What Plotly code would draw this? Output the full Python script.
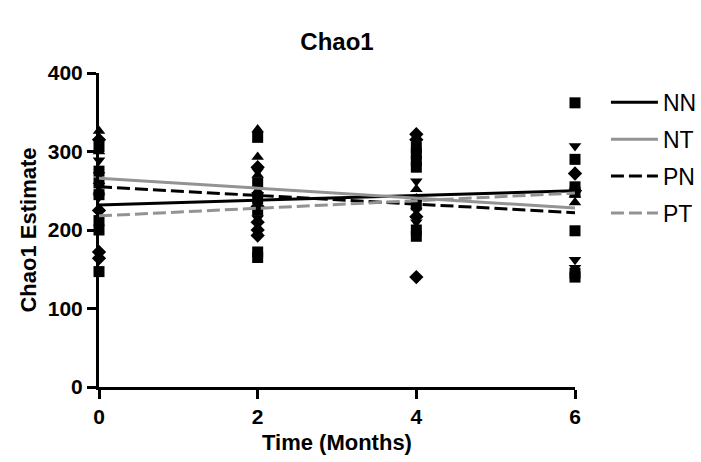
import plotly.graph_objects as go

# ---- data ----
times = [0, 2, 4, 6]
groups = ["NN", "NT", "PN", "PT"]

nn_t0 = [306, 275, 260, 245, 212, 200, 147]
nn_t2 = [318, 260, 240, 225, 172, 165]
nn_t4 = [305, 297, 288, 280, 232, 200, 192]
nn_t6 = [362, 290, 255, 248, 199, 145, 140]

nt_t0 = [326, 300, 262, 250]
nt_t2 = [328, 293, 270, 250]
nt_t4 = [252, 240]
nt_t6 = [245, 235]

pn_t0 = [289, 270, 242]
pn_t2 = [275, 245, 215]
pn_t4 = [262, 225, 210]
pn_t6 = [307, 162, 152]

pt_t0 = [315, 225, 172, 164]
pt_t2 = [280, 230, 210, 200, 193]
pt_t4 = [322, 315, 217, 140]
pt_t6 = [272, 250]

# fitted regression line values at month 0 and month 6
fit_x = [0, 6]
nn_fit = [232, 250]
nt_fit = [266, 228]
pn_fit = [255, 222]
pt_fit = [218, 247]

y_ticks = [0, 100, 200, 300, 400]
x_ticks = [0, 2, 4, 6]

# ---- figure ----
FONT = "Liberation Sans, Arial, sans-serif"
GREY = "#939393"

series = {
    "NN": ([nn_t0, nn_t2, nn_t4, nn_t6], "square", nn_fit, "black", "solid"),
    "NT": ([nt_t0, nt_t2, nt_t4, nt_t6], "triangle-up", nt_fit, GREY, "solid"),
    "PN": ([pn_t0, pn_t2, pn_t4, pn_t6], "triangle-down", pn_fit, "black", "13px,5px"),
    "PT": ([pt_t0, pt_t2, pt_t4, pt_t6], "diamond", pt_fit, GREY, "13px,5px"),
}

fig = go.Figure()

for g in groups:
    vals, sym, fit, col, dash = series[g]
    xs, ys = [], []
    for t, v in zip(times, vals):
        xs += [t] * len(v)
        ys += v
    fig.add_trace(go.Scatter(
        x=xs, y=ys, mode="markers", showlegend=False, cliponaxis=False,
        marker=dict(symbol=sym, size=11, color="black", line=dict(width=0)),
    ))

for g in groups:
    vals, sym, fit, col, dash = series[g]
    fig.add_trace(go.Scatter(
        x=fit_x, y=fit, mode="lines", name=g, legendgroup=g, cliponaxis=False,
        line=dict(color=col, width=3, dash=dash),
    ))

fig.update_layout(
    width=701, height=462,
    margin=dict(l=99, r=126, t=73, b=75, autoexpand=False),
    paper_bgcolor="white", plot_bgcolor="white",
    font=dict(family=FONT, color="black"),
    title=dict(text="<b>Chao1</b>", x=0.5, xref="paper", xanchor="center", y=0.91, yanchor="middle",
               font=dict(size=24, family=FONT, color="black")),
    legend=dict(x=1.065, y=0.975, xanchor="left", yanchor="top",
                font=dict(size=23, family=FONT, color="black"),
                tracegroupgap=4, bgcolor="rgba(0,0,0,0)", itemwidth=47),
    showlegend=True,
)

fig.update_xaxes(
    range=[0, 6], tickvals=x_ticks, ticktext=[f"<b>{v}</b>" for v in x_ticks],
    showline=True, linecolor="black", linewidth=3,
    ticks="outside", ticklen=9, tickwidth=3, tickcolor="black",
    showgrid=False, zeroline=False,
    tickfont=dict(size=21, family=FONT, color="black"),
    title=dict(text="<b>Time (Months)</b>", font=dict(size=22, family=FONT, color="black"), standoff=8),
)
fig.update_yaxes(
    range=[0, 400], tickvals=y_ticks, ticktext=[f"<b>{v}</b>" for v in y_ticks],
    showline=True, linecolor="black", linewidth=3,
    ticks="outside", ticklen=9, tickwidth=3, tickcolor="black",
    showgrid=False, zeroline=False,
    tickfont=dict(size=21, family=FONT, color="black"),
    title=dict(text="<b>Chao1 Estimate</b>", font=dict(size=22, family=FONT, color="black"), standoff=6),
)

fig.write_html("out.html")
